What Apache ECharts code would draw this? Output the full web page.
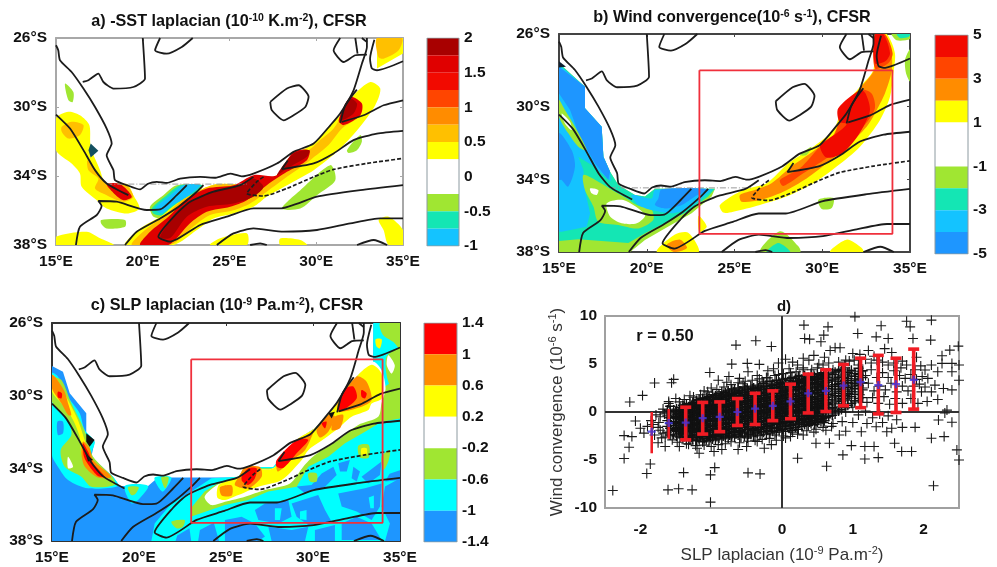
<!DOCTYPE html>
<html><head><meta charset="utf-8">
<style>html,body{margin:0;padding:0;background:#fff}#c{width:997px;height:567px;filter:blur(0.45px)}</style>
<script src="https://cdn.jsdelivr.net/npm/echarts@6/dist/echarts.min.js"></script>
</head><body><div id="c"></div>
<script>
// ---------- shared map lines (lon, lat) ----------
const coast=[[15,-26.42],[15.13,-26.71],[15.23,-27.29],[15.9,-27.97],[16.58,-28.93],[17.25,-30],[17.92,-31.25],[18.21,-32.12],[17.92,-32.8],[18.31,-33.66],[18.4,-34.24],[19.08,-34.53],[19.85,-34.78],[20.3,-34.45],[20.81,-34.34],[21.4,-34.4],[22.15,-34.15],[23.31,-34.05],[24.2,-34.1],[25.04,-33.86],[25.7,-34.02],[26.38,-33.86],[27.73,-33.28],[28.69,-32.6],[29.85,-32.12],[30.81,-31.06],[31.38,-30.38],[32.15,-29.03],[32.63,-27.49],[32.92,-26.52],[32.92,-26]];
const border1=[[20,-26],[20.13,-28.35],[19.46,-28.84],[18.31,-28.93],[17.73,-28.55],[17.44,-28.06],[16.87,-28.45],[16.54,-28.55]];
const border2=[[21,-26],[20.71,-26.71],[21.38,-26.91],[22.25,-26.52],[22.88,-26]];
const lesotho=[[27.35,-29.7],[28.31,-28.93],[28.98,-28.74],[29.56,-29.41],[29.37,-30],[28.69,-30.48],[28.12,-30.77],[27.44,-30.19],[27.35,-29.7]];
const swazi=[[31.38,-26],[31,-26.71],[31.58,-27.39],[32.25,-27],[32.92,-26.96]];
const swazi2=[[32.25,-26],[32.38,-26.91]];
const swazi3=[[32.63,-26],[32.92,-26.23]];
const contourW=[[15,-30.44],[15.81,-31.25],[16.58,-32.5],[17.25,-33.66],[17.92,-34.43],[19.17,-35.11]];
const contour2=[[16.15,-38],[16.38,-36.94],[17.35,-36.26],[17.63,-35.74],[17.44,-35.45],[18.5,-35.49],[20.23,-35.97],[21,-35.94],[21.96,-35.11],[22.54,-34.53]];
const contour3=[[18.98,-38],[19.65,-37.23],[21,-36.46],[22.06,-35.78],[23.12,-34.91],[23.5,-34.53]];
const contour4=[[26.38,-34.05],[25.62,-34.53],[24.08,-34.91],[22.73,-35.49],[21.96,-36.17],[20.9,-37.52],[21.58,-37.81],[23.31,-36.84],[24.85,-36.36],[26.38,-35.88],[27.92,-35.88],[30.04,-35.2],[32.54,-34.82],[35,-34.53]];
const dashedContour=[[26.96,-34.05],[26.58,-34.33],[26,-35.01],[26.96,-35.16],[28.31,-34.72],[29.85,-34.05],[31,-33.62],[32.92,-33.27],[35,-32.98]];
const contour6=[[28.36,-33.1],[28.02,-33.6],[29.85,-33.27],[31,-32.69],[32.15,-31.92],[33.5,-31.54],[35,-31.38]];
const contour7=[[31.48,-30.86],[32.73,-30.48],[33.88,-29.9],[35,-29.61]];
const finger=[[31.39,-30.92],[31.67,-29.91],[32.34,-28.99]];
const contour8=[[33.35,-26.1],[33.1,-27.2],[33.2,-27.75],[33.5,-27.87],[35,-27.35]];
const contour9=[[24.27,-38],[25.23,-37.33],[26.38,-37.04],[28.12,-37.23],[30.04,-37.13],[31.96,-36.75],[33.69,-36.46],[35,-36.46]];
const contour10=[[26.19,-38],[26.77,-37.9],[27.15,-38]];
const contour11=[[32.35,-38],[33.31,-37.71],[34.08,-38]];
const redBox=[[23,-28],[34,-28],[34,-37],[23,-37],[23,-28]];
const maskEdge=[[17.9,-34.47],[26,-34.47]];

// ---------- colour levels ----------
const RD='#a80000',R1='#e00000',R2='#f20a00',R3='#ff4500',O='#ff8c00',A='#ffc000',Y='#ffff00',W='#ffffff',G='#a0e632',T='#14e6b4',LB='#14c3ff',B='#1e96ff',C='#00ffff';
const barA=[[1.75,2,RD],[1.5,1.75,R1],[1.25,1.5,R2],[1,1.25,R3],[0.75,1,O],[0.5,0.75,A],[0.25,0.5,Y],[-0.25,0.25,W],[-0.5,-0.25,G],[-0.75,-0.5,T],[-1,-0.75,LB]];
const barB=[[4,5,R2],[3,4,R3],[2,3,O],[1,2,Y],[-1,1,W],[-2,-1,G],[-3,-2,T],[-4,-3,LB],[-5,-4,B]];
const barC=[[1,1.4,'#ff0000'],[0.6,1,O],[0.2,0.6,Y],[-0.2,0.2,W],[-0.6,-0.2,G],[-1,-0.6,C],[-1.4,-1,B]];
const ticksA=[-1,-0.5,0,0.5,1,1.5,2], ticksB=[-5,-3,-1,1,3,5], ticksC=[-1.4,-1,-0.6,-0.2,0.2,0.6,1,1.4];

// ---------- panel a polygons ----------
const aWestY=[[15,-30.67],[15.71,-30.28],[16.38,-30.48],[16.92,-31.05],[17,-32.31],[17.54,-33.66],[17.88,-34.43],[19.08,-34.47],[19.46,-35.11],[19.81,-35.88],[19.08,-36.17],[17.92,-35.88],[17.35,-35.4],[16.48,-34.62],[16.38,-33.85],[15.9,-33.27],[15,-32.5]];
const aWestA1=[[15.33,-31.15],[15.9,-30.86],[16.58,-31.05],[16.38,-31.63],[15.71,-31.83],[15.33,-31.44]];
const aWestA2=[[16.81,-33.08],[17.25,-33.66],[17.92,-34.47],[18.98,-34.47],[19.46,-35.2],[18.88,-35.49],[17.92,-35.11],[17.25,-34.72],[17.44,-34.14],[16.87,-33.66]];
const aWestR=[[17.92,-34.47],[18.69,-34.47],[19.37,-35.2],[18.88,-35.4],[18.31,-34.98]];
const aDiamond=[[17,-32.12],[17.44,-32.54],[17,-32.93],[16.87,-32.5]];
const aG1=[[15.52,-28.64],[16,-29.13],[15.96,-29.71],[15.71,-29.6]];
const aG2=[[17.6,-36.55],[18.98,-36.55],[18.98,-36.94],[17.92,-37.04],[17.6,-36.75]];
const aY2=[[15,-37.52],[16.77,-37.23],[17.54,-37.61],[18.31,-38],[15,-38]];
const aColdG=[[20.42,-35.78],[21.19,-35.11],[21.96,-34.53],[23.46,-34.53],[23.12,-35.01],[21.96,-35.88],[21.19,-36.4],[20.62,-36.36]];
const aColdT=[[20.52,-35.88],[21.38,-35.11],[22.15,-34.53],[23.42,-34.53],[22.83,-35.11],[21.77,-35.78],[21.19,-36.26],[20.65,-36.21]];
const aColdB=[[20.71,-35.88],[21.48,-35.2],[22.35,-34.53],[23.31,-34.53],[22.54,-35.2],[21.58,-35.78],[21.1,-36.17]];
const aBandY=[[18.98,-38],[19.85,-37.04],[21,-36.36],[21.96,-35.59],[23.31,-34.82],[24.27,-34.47],[26,-34.47],[27.73,-33.95],[28.5,-32.89],[29.85,-32.12],[30.81,-31.05],[31.48,-30.38],[32.15,-29.32],[33.12,-28.55],[33.69,-28.93],[33.4,-29.9],[32.44,-31.25],[31.19,-32.6],[29.85,-33.66],[28.5,-34.43],[27.15,-35.2],[26.38,-35.78],[25.23,-36.17],[24.08,-36.46],[23.12,-37.13],[21.77,-38]];
const aBandA=[[19.37,-38],[20.13,-37.13],[21.19,-36.36],[22.15,-35.49],[23.5,-34.72],[24.46,-34.47],[26,-34.47],[27.73,-33.95],[28.5,-32.89],[29.56,-32.5],[30.23,-31.92],[31,-31.25],[31.48,-30.48],[32.06,-29.51],[32.63,-29.8],[32.44,-30.57],[31.48,-31.25],[30.71,-32.21],[29.65,-33.08],[28.31,-34.05],[27.15,-34.91],[26.19,-35.59],[25.23,-35.98],[23.88,-36.26],[22.9,-36.94],[21.6,-38]];
const aBandR=[[19.85,-38],[20.42,-37.23],[21.48,-36.36],[22.44,-35.4],[23.69,-34.72],[25.23,-34.53],[26.38,-33.95],[27.73,-33.95],[28.69,-32.6],[29.6,-32.5],[29.46,-33.08],[28.31,-33.76],[27.15,-34.53],[26,-35.4],[25.04,-35.78],[23.69,-36.07],[22.71,-36.75],[21.48,-38]];
const aBandD1=[[21,-37.52],[21.96,-36.17],[22.73,-35.49],[23.88,-34.91],[25.42,-34.59],[26.38,-34.14],[26.96,-34.63],[26.38,-35.2],[25.23,-35.59],[23.69,-35.78],[22.54,-36.36],[21.58,-37.6]];
const aBandD2=[[27.73,-33.95],[28.69,-32.7],[29.6,-32.5],[29.46,-32.89],[28.31,-33.56]];
const aNER=[[31.29,-30.77],[31.96,-29.42],[32.63,-29.8],[32.54,-30.48],[31.58,-31.05]];
const aND=[[31.38,-30.57],[31.96,-29.51],[32.35,-29.8],[32.15,-30.38],[31.48,-30.77]];
const aG3=[[31.77,-32.5],[32.54,-31.63],[32.63,-32],[32.35,-32.5],[31.87,-32.66]];
const aG4=[[28.02,-35.88],[29.08,-34.82],[30.81,-33.37],[31.1,-34.24],[30.04,-35.11],[29.08,-35.88]];
const aTopY=[[33.5,-26],[35,-26],[35,-26.9],[33.5,-27.77]];
const aTopA=[[33.5,-26],[34.94,-26],[34.75,-26.71],[33.88,-27.2],[33.58,-27.1]];
const aY3=[[23.88,-38],[24.46,-37.61],[26,-37.32],[26,-38]];
const aY4=[[27.92,-37.62],[29.08,-37.71],[29.46,-38],[27.92,-38]];
const aY5=[[33.6,-36.55],[34.17,-36.36],[35,-37.13],[35,-38],[34.17,-38],[33.88,-37.13]];
const layersA=[[Y,aWestY],[A,aWestA1],[A,aWestA2],[R1,aWestR],[G,aG1],[G,aG2],[Y,aY2],[G,aColdG],[T,aColdT],[LB,aColdB],[Y,aBandY],[A,aBandA],[R1,aBandR],[RD,aBandD1],[RD,aBandD2],[R1,aNER],[RD,aND],[G,aG3],[G,aG4],[Y,aTopY,1],[A,aTopA],[Y,aY3],[Y,aY4],[Y,aY5],['#14505f',aDiamond,1]];

// ---------- panel b polygons ----------
const bG1=[[15,-27.61],[16.48,-28.9],[16.48,-30.09],[17.43,-31.1],[17.53,-32.75],[17.91,-33.58],[18.38,-34.31],[19.33,-34.86],[19.9,-34.95],[20.47,-34.52],[23.89,-34.52],[23.7,-34.95],[22.56,-35.87],[21.23,-36.6],[19.9,-37.34],[19.05,-38],[15,-38]];
const bT1=[[15,-27.61],[16.48,-28.9],[16.48,-30.09],[17.43,-31.1],[17.53,-32.75],[17.91,-33.58],[18.38,-34.31],[19.33,-34.86],[19.9,-34.95],[20.47,-34.52],[23.89,-34.52],[23.5,-34.95],[22.37,-35.75],[21.04,-36.4],[19.9,-36.97],[18.95,-37.5],[16.1,-37.3],[15,-37.4]];
const bLB1=[[15,-27.7],[16.48,-28.9],[16.48,-30.09],[17.43,-31.1],[17.53,-32.75],[17.91,-33.58],[17.95,-34.1],[16.86,-33.21],[16.1,-32.75],[16.39,-33.49],[16.48,-34.59],[16.77,-35.87],[16.58,-36.61],[15.15,-36.88],[15,-36.88]];
const bB1=[[15,-27.8],[16.48,-28.9],[16.48,-30.09],[17.43,-31.1],[17.53,-32.75],[17.91,-33.58],[17.81,-34.04],[17.05,-33.12],[16.2,-31.74],[15.91,-30.92],[15.63,-30.18],[15,-29.27]];
const bB2=[[15,-31.47],[15.72,-32.39],[15.91,-33.3],[15.53,-34.4],[15.15,-34.03],[15,-34.03]];
const bG2=[[16.39,-33.76],[17.24,-34.13],[18.19,-34.68],[18.86,-35.05],[19.43,-35.41],[20.28,-35.69],[20.37,-36.24],[19.52,-36.7],[18.38,-36.51],[17.24,-36.33],[16.96,-35.5],[16.48,-34.59]];
const bW1=[[16.77,-34.5],[17.24,-34.59],[17.15,-34.86],[16.86,-34.77]];
const bW2=[[17.72,-35.32],[18.67,-35.14],[19.9,-35.96],[19.43,-36.42],[18.57,-36.42],[17.91,-36.05]];
const bG3=[[15,-29.63],[15.34,-30.18],[15.91,-31.1],[16.58,-32.39],[16.1,-32.2],[15.53,-31.47],[15,-30.55]];
const bW3=[[15.15,-30.37],[15.63,-30.83],[15.72,-31.29],[15.34,-30.92]];
const bLB2=[[19.14,-34.86],[20.28,-35.05],[20.47,-34.59],[23.7,-34.55],[23.13,-35.05],[22.37,-35.6],[21.42,-35.87],[20.28,-35.69],[19.52,-35.41]];
const bB3=[[20.66,-35.05],[20.85,-34.55],[23.51,-34.55],[22.75,-34.95],[22,-35.41],[21.04,-35.6],[20.47,-35.41]];
const bBand1=[[24.17,-35.41],[25.5,-34.59],[26.83,-34.22],[28.06,-33.12],[29.49,-32.2],[30.63,-31.28],[31.2,-30],[32.15,-28.9],[32.91,-27.98],[33,-26],[33.67,-26],[34.14,-27.06],[34.05,-28.17],[33.86,-29.45],[33.29,-30.73],[32.15,-32.2],[30.82,-33.3],[29.49,-34.22],[27.97,-34.95],[26.45,-35.41],[24.93,-35.78],[24.36,-35.83]];
const bBand2=[[25.31,-34.86],[26.16,-34.59],[27.11,-34.22],[28.25,-33.3],[29.58,-32.39],[30.63,-31.56],[31.2,-30.18],[32.15,-28.99],[33,-27.89],[33,-26],[33.57,-26],[33.95,-27.06],[33.95,-28.07],[33.57,-29.27],[33,-30.37],[32.53,-31.1],[31.39,-32.2],[30.25,-33.12],[29.11,-33.95],[27.78,-34.68],[26.45,-35.14],[25.4,-35.23]];
const bBand3=[[27.59,-34.04],[28.73,-33.39],[29.87,-32.2],[30.63,-31.65],[31.2,-30.18],[32.15,-29.08],[32.81,-29.27],[33,-30.09],[32.43,-31],[31.39,-32],[30.25,-32.84],[28.92,-33.67],[27.78,-34.37]];
const bTop3=[[33,-26],[33.57,-26],[34.01,-27.06],[33.76,-27.61],[33,-27.89]];
const bTop4=[[33,-26],[33.48,-26],[33.86,-27.06],[33.57,-27.52],[33,-27.61]];
const bBand4=[[30.91,-30.09],[32.15,-29.08],[32.47,-29.27],[32.72,-30.18],[32.34,-31.1],[31.77,-31.95],[31.1,-32.6],[30.24,-32.8],[29.87,-32.2],[30.15,-31.9],[30.91,-31.4],[31.39,-30.95],[30.97,-30.83]];
const bSmallG1=[[28.73,-32.66],[29.39,-32.2],[29.11,-32.66]];
const bDotG=[[29.78,-35.12],[30.64,-35.03],[30.54,-35.58],[29.97,-35.63]];
const bRightG=[[34.72,-27.41],[35,-26.86],[35,-28.6],[34.77,-28.15]];
const bTopG=[[33.96,-26],[35,-26],[35,-26.28],[34.24,-26.35]];
const bTopT=[[34.25,-26],[35,-26],[34.9,-26.17],[34.43,-26.22]];
const bY1=[[22.95,-36],[23.42,-36.6],[23,-36.9]];
const bY2=[[20.58,-38],[21.58,-37.05],[22.38,-36.95],[22.95,-38]];
const bO1=[[21.15,-37.6],[21.9,-37.32],[22.29,-37.78],[21.53,-38]];
const bY3=[[30.45,-38],[31.39,-37.32],[32.25,-37.78],[32.34,-38]];
const bG4=[[26.46,-38],[27.6,-36.86],[28.64,-37.69],[28.74,-38]];
const bT2=[[26.84,-38],[27.5,-37.5],[28.17,-38]];
const bBlack=[[15,-27.5],[15.4,-27.8],[15,-27.85]];
const layersB=[[G,bG1,1],[T,bT1,1],[LB,bLB1,1],[B,bB1,1],[B,bB2],[G,bG3],[W,bW3],[G,bG2],[W,bW1],[W,bW2],[LB,bLB2],[B,bB3],[Y,bBand1],[O,bBand2],[R3,bBand3],[R3,bTop3],[R2,bTop4],[R2,bBand4],[G,bSmallG1],[G,bDotG],[G,bRightG],[G,bTopG],[T,bTopT],[Y,bY1],[Y,bY2],[O,bO1],[Y,bY3],[G,bG4],[T,bT2],['#102030',bBlack,1]];

// ---------- panel c polygons ----------
const cOcean=[[15,-28.37],[15.63,-28.68],[16.02,-29.87],[16.97,-30.97],[16.97,-32.17],[17.45,-32.53],[17.26,-33.36],[18.5,-34.46],[18.89,-34.97],[20.52,-34.97],[21.09,-34.5],[25.71,-34.5],[26.09,-33.93],[27.72,-33.93],[29.06,-32.44],[30.11,-31.8],[30.88,-31.06],[31.55,-30.24],[32.51,-28.95],[33.46,-28.13],[33.47,-26],[35,-26],[35,-38],[15,-38]];
const cWestC=[[15,-28.77],[15.34,-28.95],[15.92,-30.06],[16.59,-30.97],[16.88,-31.89],[17.45,-32.53],[17.26,-33.36],[18.5,-34.46],[18.79,-34.97],[17.07,-35.1],[15.92,-34.64],[15.34,-33.91],[15,-33.27]];
const cB1=[[15.31,-31.43],[15.63,-31.43],[15.63,-32.07],[15.34,-32.16]];
const cB2=[[16.3,-33],[16.49,-32.82],[16.53,-33.54],[16.4,-33.73]];
const cWestG=[[15,-29.05],[15.54,-29.14],[16.11,-30.42],[16.69,-31.52],[17.07,-32.44],[17.36,-33.36],[18.5,-34.5],[18.6,-34.92],[17.26,-35.01],[16.69,-34.46],[15.73,-33.91],[15.5,-32.99],[16.11,-32.17],[15.92,-31.34],[15,-30.33]];
const cWestY=[[15,-28.86],[15.31,-29.14],[15.92,-30.24],[16.49,-31.34],[16.88,-32.44],[17.26,-33.54],[18.41,-34.46],[17.84,-34.5],[16.97,-33.91],[16.69,-33.18],[16.59,-32.26],[16.21,-31.34],[15.73,-30.61],[15,-29.78]];
const cWestO1=[[15,-28.86],[15.25,-29.05],[15.73,-29.78],[15.92,-30.42],[16.11,-31.06],[15.92,-31.06],[15.54,-30.42],[15,-29.6]];
const cRedDot=[[15.34,-29.78],[15.57,-29.87],[15.54,-30.15],[15.34,-30.09]];
const cWestO2=[[16.78,-32.53],[17.16,-32.9],[17.36,-33.54],[18.41,-34.46],[17.64,-34.5],[16.88,-33.9],[16.69,-33.18]];
const cWestR=[[16.78,-32.62],[17.07,-33.08],[17.36,-33.72],[18.03,-34.46],[17.64,-34.42],[17.16,-33.9],[16.84,-33.36]];
const cW1=[[15.92,-33.36],[16.21,-33.91],[15.92,-34]];
const cBlk1=[[16.97,-32.07],[17.45,-32.44],[17.16,-32.81],[16.97,-32.53]];
const cBlk2=[[16.92,-33.17],[17.36,-33.54],[17.07,-33.63]];
const cC2=[[19.18,-34.97],[20.52,-34.97],[19.95,-35.74],[19.56,-35.92]];
const cG2=[[19.37,-35.04],[19.98,-35.04],[19.79,-35.41],[19.56,-35.47]];
const cC3=[[20.9,-34.5],[21.86,-34.5],[21.38,-35.28],[21.09,-35]];
const cG3=[[21.28,-34.5],[21.7,-34.5],[21.51,-35.1]];
const cEastC=[[20.71,-38],[20.9,-37.03],[21.86,-35.93],[23.01,-35.28],[24.16,-34.55],[25.71,-34.46],[26.09,-33.93],[27.72,-33.93],[29.06,-32.44],[30.11,-31.8],[30.88,-31.06],[31.55,-30.24],[32.51,-28.95],[33.46,-28.13],[33.47,-26],[35,-26],[35,-38]];
const cPatch=[
[[27.24,-35.93],[28.58,-35.74],[28.77,-36.66],[28,-37.03],[26.86,-36.84],[26.66,-36.3]],
[[28.77,-35.93],[30.3,-35.47],[30.69,-36.3],[31.07,-36.94],[29.73,-37.12],[29.06,-36.66]],
[[31.45,-35.38],[32.99,-35.1],[33.94,-34.83],[33.85,-36.1],[33.37,-36.84],[32.51,-36.38],[31.65,-36.1]],
[[34.14,-35],[35,-34.55],[35,-38],[34.14,-38],[34.42,-37.03],[33.94,-36.1]],
[[35,-34.1],[34.4,-34.3],[34.14,-34.73],[35,-34.64]],
[[31.45,-33.72],[32.12,-33.54],[31.94,-34.18],[31.55,-34.18]],
[[32.32,-33.91],[32.7,-34.18],[32.51,-34.73],[32.22,-34.55]],
[[29.06,-35],[29.92,-34.92],[30.5,-34.28],[31.17,-33.91],[31.36,-34.37],[30.69,-35.01],[29.54,-35.38]],
[[32.79,-34.46],[33.94,-33.63],[33.85,-34.37],[33.18,-34.83]],
[[24.94,-36.84],[25.9,-36.66],[26.66,-37.03],[27.24,-37.75],[26.86,-38],[24.94,-38]],
[[27.43,-37.21],[28.77,-37.39],[29.73,-37.21],[29.54,-38],[27.62,-38]],
[[30.11,-37.39],[31.26,-37.12],[31.26,-38],[30.11,-38]],
[[31.65,-37.03],[32.51,-36.66],[33.37,-37.03],[33.94,-37.94],[31.65,-37.94]],
[[23.5,-37.4],[24.3,-37],[24.6,-38],[23.4,-38]],
[[22.2,-37.7],[22.9,-37.3],[23,-38],[22.1,-38]]
];
const cCyanDots=[[[27.81,-36.2],[28.2,-36.2],[28.1,-36.84],[27.81,-36.84]],[[29.25,-36.38],[29.63,-36.3],[29.63,-36.84],[29.25,-36.8]],[[33.2,-35.6],[33.5,-35.5],[33.5,-36.2],[33.3,-36.2]]];
const cEastG=[[22.97,-36.66],[23.05,-36.11],[23.77,-35.28],[24.54,-34.83],[25.71,-34.46],[26.09,-34],[27.72,-34],[29.06,-32.44],[30.11,-31.8],[30.88,-31.06],[31.55,-30.24],[32.51,-28.95],[33.46,-28.13],[33.94,-28.59],[34.14,-29.5],[35,-28.95],[35,-31.25],[33.94,-31.43],[32.99,-31.98],[31.84,-32.62],[30.88,-33.36],[29.73,-33.91],[29.06,-35.01],[27.43,-35.28],[26.28,-35.74],[24.94,-36.02]];
const cTopG1=[[33.85,-26],[35,-26],[35,-27.41],[34.62,-27.05],[34.04,-26.68]];
const cTopG2=[[34.2,-27.9],[35,-27.4],[35,-29.2],[34.4,-29.4]];
const cTopW=[[34.33,-27.78],[34.7,-28.33],[34.52,-28.79],[34.24,-28.33]];
const cTopY=[[33.6,-26.9],[33.95,-26.9],[33.85,-27.4],[33.65,-27.3]];
const cEastW=[[23.77,-35.56],[24.54,-34.89],[25.71,-34.46],[26.09,-34],[27.72,-34],[29.06,-32.44],[30.11,-31.8],[30.88,-31.06],[31.55,-30.24],[32.51,-28.95],[33.46,-28.13],[33.94,-28.59],[34.17,-29.6],[33.94,-30.42],[33.75,-31.16],[32.6,-31.61],[31.45,-32.44],[30.11,-33.27],[29.44,-33.91],[28.68,-34.83],[27.24,-35.19],[26.09,-35.56],[24.94,-35.84],[24.16,-36.02]];
const cEastY=[[24.6,-34.9],[25.71,-34.46],[26.09,-34],[27.72,-34],[29.06,-32.44],[30.11,-31.8],[30.88,-31.06],[31.55,-30.24],[32.51,-28.95],[33.37,-28.3],[33.94,-28.8],[33.94,-30.15],[33.37,-30.43],[33.18,-30.79],[32.22,-31.16],[31.45,-31.8],[30.69,-32.35],[29.73,-33],[29.35,-33.54],[28.2,-34.64],[26.86,-35.01],[25.71,-35.47],[24.94,-35.74],[24.5,-35.6]];
const cO1=[[24.66,-35.03],[25.33,-34.94],[25.33,-35.49],[24.75,-35.49]];
const cO2=[[25.8,-34.37],[26.09,-33.93],[26.95,-33.93],[27.05,-34.46],[26.28,-35.1],[25.51,-34.92]];
const cO3=[[27.91,-33.91],[29.06,-32.44],[29.83,-32.17],[30.11,-31.8],[29.54,-33],[28.77,-33.54],[28,-34.18]];
const cO4=[[31.45,-30.33],[32.51,-28.95],[33.08,-29.23],[33.37,-30.24],[32.79,-30.61],[31.45,-30.88]];
const cO5=[[30.21,-31.89],[30.88,-31.06],[31.26,-31.16],[30.88,-31.98],[30.4,-32.3]];
const cO6=[[31.26,-31.16],[31.74,-31.06],[31.55,-31.8],[31.07,-31.89]];
const cR1=[[25.9,-34.46],[26.28,-34],[26.76,-34],[26.66,-34.55],[26.28,-34.92],[25.94,-34.73]];
const cR2=[[27.91,-33.54],[29.06,-32.44],[29.73,-32.44],[29.06,-33.17],[28.29,-33.98],[27.91,-33.91]];
const cR3=[[31.45,-30.61],[31.84,-29.6],[32.32,-29.5],[32.51,-30.15],[31.55,-30.88]];
const cR4=[[32.79,-29.69],[33.08,-29.87],[32.99,-30.15],[32.79,-30.06]];
const cR5=[[30.5,-31.52],[30.78,-31.43],[30.69,-31.8]];
const cBlk3=[[30.88,-30.97],[31.26,-30.88],[31.07,-31.25]];
const cG5=[[32.6,-32.75],[33.2,-32.7],[33.2,-33.4],[32.7,-33.4]];
const cY5=[[32.79,-32.9],[33.08,-32.9],[33.08,-33.27],[32.79,-33.27]];
const cG6=[[29.73,-34.28],[30.21,-34.28],[30.21,-34.73],[29.83,-34.73]];
const cG7=[[21.86,-36.94],[22.62,-36.85],[22.53,-37.21],[22.15,-37.3]];
const cG8=[[33.94,-33.36],[34.42,-32.99],[34.33,-33.63],[34.05,-34.09]];
const layersC=[[B,cOcean,1],[C,cWestC],[B,cB1],[B,cB2],[G,cWestG],[Y,cWestY],[O,cWestO1],['#ff0000',cRedDot],[O,cWestO2],['#ff0000',cWestR],[W,cW1],[C,cC2],[G,cG2],[C,cC3],[G,cG3],[C,cEastC,1]]
 .concat(cPatch.map(p=>[B,p,1])).concat(cCyanDots.map(p=>[C,p,1]))
 .concat([[G,cEastG,1],[G,cTopG1],[G,cTopG2],[W,cTopW],[Y,cTopY],[W,cEastW],[Y,cEastY],[O,cO1],[O,cO2],[O,cO3],[O,cO4],[O,cO5],[O,cO6],['#ff0000',cR1],['#ff0000',cR2],['#ff0000',cR3],['#ff0000',cR4],['#ff0000',cR5],['#111',cBlk1,1],['#111',cBlk2,1],['#111',cBlk3,1],[G,cG5],[Y,cY5],[G,cG6],[G,cG7],[G,cG8]]);

// ---------- panel d data ----------
const binX=[-1.84,-1.6,-1.36,-1.12,-0.88,-0.63,-0.38,-0.13,0.12,0.37,0.62,0.87,1.11,1.36,1.61,1.86];
const binMean=[-2.05,-1.15,-1.1,-0.65,-0.5,0,0.35,0.65,1.1,1.95,2.2,2.75,3.1,2.8,2.9,3.35];
const binTop=[0,0.3,0.5,1,1.05,1.4,1.95,2.2,2.9,3.95,4.4,4.95,5.6,5.9,5.6,6.55];
const binBottom=[-4.3,-2.8,-2.9,-2.3,-2.05,-1.4,-1.3,-0.9,-0.7,-0.1,0.05,0.65,0.45,-0.2,-0.05,0.3];
const outliers=[[-2.39,-8.18],[-2.15,1.04],[-1.97,1.73],[-1.8,3.02],[-1.56,3.05],[-1.53,3.4],[-2.23,-2.46],[-2.07,-0.94],[-2.23,-4.85],[-2.16,-3.67],[-2.12,-2.56],[-1.91,-6.41],[-1.86,-5.41],[-1.39,-6.31],[-1.61,-8.11],[-1.46,-8],[-1.27,-8.11],[-1.01,-9.39],[-1.01,-6.55],[-0.95,-5.79],[-0.48,-6.34],[-0.31,-6.45],[-0.65,6.97],[-0.37,7.42],[-0.15,6.83],[-0.71,4.99],[-0.49,5.06],[-1.02,4.12],[-0.32,4.96],[0.22,-4.82],[0.63,-5.65],[0.31,9.05],[0.65,8.87],[0.32,7.66],[0.39,7.59],[0.59,8.01],[0.55,7.31],[1.03,9.91],[1.07,8.18],[1.4,8.98],[1.76,9.46],[2.11,9.57],[1.81,8.87],[1.85,7.66],[2.1,7.49],[1.33,7.83],[1.5,7.66],[2.49,6.86],[2.37,6.45],[2.26,5.86],[2.14,-7.69],[2.5,-5],[2.47,-3.95],[1.36,-4.75],[1.17,-4.89],[0.86,-4.47],[0.98,-3.5],[1.17,-3.6],[1.3,-3.6],[1.59,-3.26],[1.69,-4.12],[1.83,-4.12],[1.88,-1.6],[2.11,-2.74],[2.29,-2.56],[2.21,-0.83],[2.4,-1.07],[1.12,-2.05],[1.33,-1.53],[1.48,-2.05],[0.81,-2.39],[0.67,-3.26],[0.48,-3.26],[-0.25,-3.78],[-0.35,-3.08],[-1.2,-3.78],[-0.96,-4.12],[-1.17,-4.3],[2.5,4.9],[2.4,5.06],[2.26,5.06],[2.11,4.9],[2.4,4.2],[2.2,4.2],[2.16,2.8],[2.02,4.37],[2.4,2.3],[2.33,0.2],[2.5,3.3],[2.28,2.45],[2.11,2.1],[1.97,2.1],[-1.75,-1.6],[-1.85,-0.9],[-1.95,-2.2],[-1.7,-2.7],[-1.65,-3.6],[-1.75,-3.2],[-2,-1.7],[-1.6,1.1],[-1.5,1.4],[-1.3,1.7],[-1.1,2.2],[-0.9,3.3],[-0.75,3.7],[-0.2,4.3],[-0.05,3.9],[-0.62,-3.9],[-0.15,-3.4],[-0.5,-3.6],[-0.85,-3.9],[-1.45,-3.6],[-1.35,-3.3]];
const edgeFringe=[[-1.6,0.9],[-1.45,1.05],[-1.38,1.3],[-1.25,1.55],[-1.15,1.8],[-1.05,2.1],[-1,2.5],[-0.92,2.35],[-0.82,2.6],[-0.72,2.85],[-0.62,3.05],[-0.52,3.2],[-0.42,3.3],[-0.32,3.45],[-0.2,3.55],[-0.1,3.8],[0.02,4],[0.12,4.1],[0.3,4.4],[-0.78,3.1],[-0.55,2.95],[-0.28,3.2],[-1.65,-2.6],[-1.55,-2.9],[-1.48,-3.15],[-1.32,-3.35],[-1.22,-3.5],[-1.1,-3.45],[-1,-3.6],[-0.9,-3.4],[-0.8,-3.3],[-0.72,-3.1],[-0.6,-3.2],[-0.48,-3.05],[-0.38,-2.95],[-0.28,-2.85],[-0.18,-2.75],[-0.08,-2.95],[0.02,-2.5],[0.12,-2.55],[0.22,-2.3],[0.35,-1.95],[0.48,-1.8],[0.58,-1.6],[0.7,-1.5],[-1.72,-0.5],[-1.68,0.3],[-1.74,-1.1],[-1.68,-2.2],[-1.72,-1.9],[-1.66,-0.2],[-1.8,-2.4],[-1.9,-1.5],[-1.78,-0.3],[-1.82,-1.3]];
const upperCloud=[[0.05,5.5],[0.15,5.2],[0.22,4.9],[0.3,5.6],[0.38,5.4],[0.45,5.9],[0.52,5],[0.6,5.7],[0.68,6.4],[0.75,6.7],[0.82,6.7],[0.9,5.4],[1,6.1],[1.1,6],[1.22,6.4],[1.3,5.8],[1.45,6.6],[1.55,6.2],[1.7,5.3],[1.9,5.7],[0.1,4.5],[0.2,4.2],[0.3,4.6],[0.42,4.4],[0.5,4.6],[0.58,4.9],[0.66,5.1],[0.72,4.4],[0.8,5.2],[0.88,4.9],[0.95,5.3],[1.02,5.4],[1.08,4.9],[1.18,5.5],[1.26,5.1],[1.34,5.4],[1.42,5.2],[1.5,4.9],[1.58,5.1],[1.68,4.6],[1.76,4.9],[1.88,4.4],[1.96,4.8],[0.25,3.8],[0.35,3.5],[0.45,3.9],[0.55,4],[0.65,3.6],[0.72,3.9],[0.8,4.2],[0.88,3.6],[0.95,4.2],[1.03,3.7],[1.1,4.2],[1.18,3.8],[1.26,4.4],[1.34,3.6],[1.42,4.1],[1.5,3.6],[1.58,4.3],[1.66,3.8],[1.74,3.5],[1.82,3.9],[1.9,3.4],[1.98,3.7],[2.06,3.5],[0.6,3],[0.7,2.7],[0.78,3.2],[0.85,2.5],[0.92,3],[1,2.4],[1.06,3.1],[1.14,2.5],[1.22,3],[1.3,2.2],[1.38,2.7],[1.46,2.3],[1.54,3],[1.62,2.1],[1.7,2.7],[1.78,2.2],[1.86,2.7],[1.94,2.9],[2.02,2.6],[0.75,1.9],[0.85,1.4],[0.95,1.8],[1.03,1.2],[1.1,1.8],[1.2,1],[1.28,1.5],[1.36,0.9],[1.44,1.6],[1.52,0.8],[1.6,1.4],[1.7,0.9],[1.82,1.4],[1.92,0.9],[2.05,1.1],[2.2,1.3],[2.3,-0.1],[0.65,0.9],[0.72,0.2],[0.8,0.6],[0.9,0],[1,0.5],[1.08,-0.3],[1.18,0.1],[1.28,-0.6],[1.38,-0.2],[1.5,-0.4],[1.62,-0.8],[1.7,-1.6],[1.55,-1.7],[1.42,-1.1],[1.2,-1.2],[1,-1.1],[0.85,-1],[0.72,-1.2],[0.6,-0.9],[0.9,-2],[0.62,-1.9],[0.45,-2.1],[0.3,-2.4],[0.15,-2.1],[0.05,-2.7],[-0.1,-2.4],[-0.05,5.1],[-0.12,4.5],[-0.22,3.6],[-0.35,3.8],[-0.48,4.2],[-0.6,3.5]];
const coreColumns=[
[-1.62,[-2.1,-1.5,-0.9,-0.4,0.2]],[-1.58,[-2.4,-1.7,-1.2,-0.6,0.1,0.6]],
[-1.53,[-2.3,-1.9,-1.4,-1,-0.6,-0.2,0.2]],[-1.49,[-2.5,-2,-1.6,-1.2,-0.7,-0.3,0.3]],
[-1.44,[-2.6,-2.2,-1.7,-1.1,-0.8,-0.4,0.1,0.5]],[-1.4,[-2.7,-2.3,-1.8,-1.3,-0.9,-0.5,0,0.4,0.7]],
[-1.35,[-2.8,-2.2,-1.9,-1.4,-1,-0.6,-0.1,0.3,0.8]],[-1.3,[-2.9,-2.4,-2,-1.5,-1.1,-0.5,-0.2,0.4,0.9]],
[-1.26,[-2.8,-2.5,-1.9,-1.4,-0.9,-0.4,0.1,0.6,1]],[-1.21,[-3,-2.4,-1.8,-1.3,-0.8,-0.3,0.2,0.7,1.2]],
[-1.17,[-2.9,-2.3,-1.9,-1.2,-0.7,-0.2,0.3,0.8,1.3]],[-1.12,[-3.1,-2.5,-1.7,-1.1,-0.6,-0.1,0.4,0.9,1.4]],
[-1.07,[-2.9,-2.2,-1.6,-1.2,-0.5,0,0.5,1,1.5]],[-1.03,[-3,-2.4,-1.8,-1,-0.4,0.1,0.6,1.1,1.6]],
[-0.98,[-2.8,-2.1,-1.5,-0.9,-0.5,0.2,0.7,1.2,1.8]],[-0.94,[-2.9,-2.3,-1.7,-1,-0.3,0.3,0.8,1.3,1.7]],
[-0.89,[-2.7,-2,-1.4,-0.8,-0.2,0.2,0.9,1.4,1.9]],[-0.85,[-2.8,-2.2,-1.6,-0.9,-0.4,0.4,1,1.5,2.1]],
[-0.8,[-2.6,-1.9,-1.3,-0.7,-0.1,0.5,1.1,1.6,2]],[-0.76,[-2.7,-2.1,-1.5,-0.8,-0.3,0.3,0.9,1.7,2.2]],
[-0.71,[-2.5,-1.8,-1.2,-0.6,0,0.6,1.2,1.8,2.4]],[-0.67,[-2.6,-2,-1.4,-0.7,-0.2,0.4,1,1.6,2.3]],
[-0.62,[-2.4,-1.7,-1.1,-0.5,0.1,0.7,1.3,1.9,2.5]],[-0.58,[-2.6,-1.9,-1.3,-0.6,-0.1,0.5,1.1,1.7,2.2]],
[-0.53,[-2.5,-1.6,-1,-0.4,0.2,0.8,1.4,2,2.6]],[-0.49,[-2.7,-1.8,-1.2,-0.5,0,0.6,1.2,1.8,2.4]],
[-0.44,[-2.3,-1.5,-0.9,-0.3,0.3,0.9,1.5,2.1,2.7]],[-0.4,[-2.5,-1.7,-1.1,-0.4,0.1,0.7,1.3,1.9,2.5]],
[-0.35,[-2.2,-1.4,-0.8,-0.2,0.4,1,1.6,2.2,2.8]],[-0.31,[-2.4,-1.6,-1,-0.3,0.2,0.8,1.4,2,2.6]],
[-0.26,[-2.1,-1.3,-0.7,-0.1,0.5,1.1,1.7,2.3,3]],[-0.22,[-2.3,-1.5,-0.9,-0.2,0.3,0.9,1.5,2.1,2.7]],
[-0.17,[-2.2,-1.4,-0.8,0,0.6,1.2,1.8,2.4,3.2]],[-0.13,[-2,-1.2,-0.6,0.1,0.4,1,1.6,2.2,2.9]],
[-0.08,[-2.1,-1.3,-0.7,-0.1,0.7,1.3,1.9,2.5,3.3]],[-0.04,[-1.9,-1.1,-0.5,0.2,0.5,1.1,1.7,2.6,3.1]],
[0.01,[-1.8,-1.2,-0.4,0.3,0.8,1.4,2,2.7,3.4]],[0.05,[-2,-1,-0.5,0.1,0.6,1.2,1.8,2.4,3.5]],
[0.1,[-1.7,-1.1,-0.3,0.4,0.9,1.5,2.1,2.8,3.3]],[0.14,[-1.9,-0.9,-0.2,0.2,0.7,1.3,1.9,2.6,3.6]],
[0.19,[-1.6,-1,-0.4,0.5,1,1.6,2.2,2.9,3.5]],[0.23,[-1.8,-0.8,-0.1,0.3,0.8,1.4,2.4,3,3.7]],
[0.28,[-1.5,-0.9,-0.2,0.6,1.1,1.7,2.3,3.1,3.4]],[0.32,[-1.3,-0.7,0,0.4,0.9,1.5,2.5,3.2,3.8]],
[0.37,[-1.4,-0.8,-0.3,0.7,1.2,1.8,2.4,3,3.6]],[0.41,[-1.2,-0.6,0.1,0.5,1,1.6,2.6,3.3,4]],
[0.46,[-1.3,-0.7,-0.1,0.8,1.3,1.9,2.5,3.1,3.7]],[0.5,[-1.1,-0.5,0.2,0.6,1.1,2,2.7,3.4,3.9]],
[0.55,[-1,-0.4,0.3,0.9,1.4,2.1,2.6,3.2,3.8]],[0.59,[-1.1,-0.2,0.4,0.7,1.2,1.8,2.8,3.5,4.1]]
];
const coreColumns2=[
[-1.5,[-1.8,-1.05,-0.45,0.05]],[-1.46,[-1.95,-1.35,-0.55,-0.15]],[-1.42,[-2.05,-1.55,-0.65,-0.25,0.25]],
[-1.38,[-2.55,-1.15,-0.75,0.15,0.55]],[-1.33,[-2.05,-1.65,-1.25,-0.35,0.05]],[-1.28,[-2.65,-1.75,-0.75,-0.35,0.15,0.65]],
[-1.24,[-2.15,-1.65,-1.15,-0.65,-0.15,0.35,0.85]],[-1.19,[-2.65,-2.05,-1.55,-1.05,-0.55,-0.05,0.45,0.95]],
[-1.15,[-2.55,-2.15,-1.45,-0.95,-0.45,0.05,0.55,1.05]],[-1.1,[-2.75,-2.05,-1.35,-0.85,-0.35,0.15,0.65,1.15]],
[-1.05,[-2.55,-1.95,-1.4,-0.8,-0.25,0.25,0.75,1.25]],[-1.01,[-2.65,-2.1,-1.5,-0.7,-0.15,0.35,0.85,1.35]],
[-0.96,[-2.45,-1.85,-1.25,-0.7,-0.05,0.45,0.95,1.5]],[-0.92,[-2.55,-2,-1.35,-0.6,0.05,0.55,1.05,1.55]],
[-0.87,[-2.35,-1.75,-1.15,-0.55,0.05,0.6,1.15,1.65]],[-0.83,[-2.5,-1.85,-1.25,-0.5,0.15,0.7,1.25,1.8]],
[-0.78,[-2.25,-1.65,-1.05,-0.45,0.2,0.8,1.35,1.85]],[-0.74,[-2.4,-1.75,-1.15,-0.5,0.1,0.65,1.45,1.95]],
[-0.69,[-2.15,-1.5,-0.9,-0.3,0.3,0.9,1.5,2.1]],[-0.65,[-2.3,-1.65,-1.05,-0.45,0.15,0.75,1.35,2]],
[-0.6,[-2.05,-1.4,-0.8,-0.2,0.4,1,1.6,2.2]],[-0.56,[-2.2,-1.55,-0.95,-0.35,0.25,0.85,1.45,2]],
[-0.51,[-2.1,-1.3,-0.7,-0.1,0.5,1.1,1.7,2.3]],[-0.47,[-2.3,-1.5,-0.85,-0.25,0.35,0.95,1.55,2.15]],
[-0.42,[-1.95,-1.2,-0.6,0,0.6,1.2,1.8,2.4]],[-0.38,[-2.1,-1.4,-0.75,-0.15,0.45,1.05,1.65,2.25]],
[-0.33,[-1.8,-1.1,-0.5,0.1,0.7,1.3,1.9,2.5]],[-0.29,[-2,-1.3,-0.65,-0.05,0.55,1.15,1.75,2.35]],
[-0.24,[-1.7,-1,-0.4,0.2,0.8,1.4,2,2.65]],[-0.2,[-1.9,-1.2,-0.55,0.05,0.65,1.25,1.85,2.45]],
[-0.15,[-1.7,-1.05,-0.3,0.3,0.9,1.5,2.1,2.75]],[-0.11,[-1.6,-0.9,-0.25,0.25,0.85,1.3,1.95,2.55]],
[-0.06,[-1.7,-1,-0.4,0.4,1,1.6,2.2,2.85]],[-0.02,[-1.5,-0.8,-0.15,0.35,0.85,1.45,2.05,2.95]],
[0.03,[-1.5,-0.75,-0.2,0.4,0.95,1.55,2.15,3]],[0.07,[-1.35,-0.7,-0.1,0.3,0.85,1.65,2.25,2.95]],
[0.12,[-1.4,-0.6,0,0.65,1.2,1.8,2.35,3.05]],[0.16,[-1.25,-0.5,0.05,0.55,1.05,1.65,2.3,3.1]],
[0.21,[-1.3,-0.65,0.15,0.75,1.3,1.9,2.55,3.2]],[0.25,[-1.15,-0.45,0.1,0.6,1.15,1.75,2.65,3.3]],
[0.3,[-1.1,-0.5,0.2,0.85,1.4,2.05,2.7,3.3]],[0.34,[-1,-0.35,0.25,0.7,1.25,1.85,2.75,3.45]],
[0.39,[-1.05,-0.45,0.35,0.95,1.5,2.15,2.85,3.4]],[0.43,[-0.9,-0.3,0.3,0.75,1.35,1.95,2.95,3.55]],
[0.48,[-0.95,-0.35,0.45,1.05,1.6,2.25,2.85,3.45]],[0.52,[-0.8,-0.15,0.4,0.85,1.45,2.35,3,3.65]],
[0.57,[-0.7,0,0.55,1.15,1.7,2.35,2.95,3.55]],[0.62,[-0.6,0.1,0.5,1,1.55,2.15,3.1,3.75]],
[0.66,[-0.45,0.3,0.75,1.3,1.85,2.45,3.25,3.95]],[0.71,[-0.35,0.45,0.95,1.55,2.1,2.65,3.35,4.05]],
[0.75,[-0.2,0.4,1.15,1.7,2.3,2.85,3.45,4.15]],[0.8,[0.1,0.85,1.35,1.95,2.4,2.95,3.6,4.3]],
[0.84,[0.25,1.1,1.6,2.15,2.65,3.15,3.75,4.45]],[0.89,[0.45,1.25,1.75,2.3,2.8,3.3,3.95,4.6]],
[0.93,[0.7,1.45,1.95,2.55,3.05,3.5,4.1]],[0.98,[0.9,1.6,2.15,2.7,3.25,3.75,4.35]],
[1.03,[1.05,1.85,2.45,2.95,3.45,4]],[1.08,[1.4,2.1,2.75,3.35,3.9,4.55]],[1.14,[1.5,2.3,3.05,3.6,4.3]]
];

// ---------- text ----------
const FONT='"Liberation Sans",Arial,sans-serif';
const sup={t:{fontSize:16.2,fontWeight:'bold',fontFamily:FONT,color:'#111',lineHeight:18},s:{fontSize:10.5,fontWeight:'bold',fontFamily:FONT,color:'#111',lineHeight:11,verticalAlign:'top'}};
const supN={t:{fontSize:17,fontFamily:FONT,color:'#333',lineHeight:20},s:{fontSize:11,fontFamily:FONT,color:'#333',lineHeight:11,verticalAlign:'top'}};
const titleA='{t|a) -SST laplacian (10}{s|-10}{t| K.m}{s|-2}{t|), CFSR}';
const titleB='{t|b) Wind convergence(10}{s|-6}{t| s}{s|-1}{t|), CFSR}';
const titleC='{t|c) SLP laplacian (10}{s|-9}{t| Pa.m}{s|-2}{t|), CFSR}';
const xNameD='{t|SLP laplacian (10}{s|-9}{t| Pa.m}{s|-2}{t|)}';
const yNameD='{t|Wind convergence (10}{s|-6}{t| s}{s|-1}{t|)}';

// ---------- option assembly ----------
const grids=[],xAxes=[],yAxes=[],series=[];
const lbl={fontFamily:FONT,fontWeight:'bold',fontSize:15.5,color:'#111'};
function addAxes(g,xCfg,yCfg){
  const xi=xAxes.length, yi=yAxes.length;
  xAxes.push(Object.assign({gridIndex:g,type:'value',position:'bottom'},xCfg));
  yAxes.push(Object.assign({gridIndex:g,type:'value',position:'left'},yCfg));
  return [xi,yi];
}
const PLUS='path://M4.45 0H5.55V4.45H10V5.55H5.55V10H4.45V5.55H0V4.45H4.45Z';
const PLUSC='path://M4.3 0H5.7V4.3H10V5.7H5.7V10H4.3V5.7H0V4.3H4.3Z';
const PLUSB='path://M3.6 0H6.4V3.6H10V6.4H6.4V10H3.6V6.4H0V3.6H3.6Z';
function mapPanel(box,layers,frame,showMask,showBox){
  const g=grids.length; grids.push(Object.assign({show:false},box));
  const al={show:true,onZero:false,lineStyle:{color:frame,width:2}};
  const tk={show:true,inside:true,length:3,lineStyle:{color:frame,width:1}};
  const [xi,yi]=addAxes(g,
   {min:15,max:35,interval:5,axisLine:al,axisTick:tk,splitLine:{show:false},axisLabel:Object.assign({margin:9,formatter:v=>v+'°E'},lbl)},
   {min:-38,max:-26,interval:4,axisLine:al,axisTick:tk,splitLine:{show:false},axisLabel:Object.assign({margin:9,formatter:v=>(-v)+'°S'},lbl)});
  addAxes(g,{min:15,max:35,interval:5,position:'top',axisLine:al,axisTick:tk,axisLabel:{show:false},splitLine:{show:false}},
            {min:-38,max:-26,interval:4,position:'right',axisLine:al,axisTick:tk,axisLabel:{show:false},splitLine:{show:false}});
  series.push({type:'custom',xAxisIndex:xi,yAxisIndex:yi,clip:true,z:1,silent:true,data:layers.map((l,i)=>[i]),
    renderItem:(p,api)=>{const l=layers[api.value(0)];
      return {type:'polygon',shape:{points:l[1].map(c=>api.coord(c)),smooth:l[2]?0:0.28},style:{fill:l[0]}};}});
  const solid=[coast,border1,border2,lesotho,swazi,swazi2,swazi3,contourW,contour2,contour3,contour4,contour6,contour7,finger,contour8,contour9,contour10,contour11];
  const ln=(d,st,z,sm)=>series.push({type:'line',xAxisIndex:xi,yAxisIndex:yi,data:d,showSymbol:false,silent:true,z:z||3,smooth:sm||false,lineStyle:st});
  if(showMask) ln(maskEdge,{color:'#9a9a9a',width:1,type:[6,2,1,2]},2);
  solid.forEach(d=>ln(d,{color:'#1c1c1c',width:1.8},3,0.2));
  ln(dashedContour,{color:'#1c1c1c',width:1.7,type:[4,2]},3,0.2);
  if(showBox) ln(redBox,{color:'#f0303c',width:1.8},4);
}
function colorBar(box,bands,ticks,dec){
  const g=grids.length; grids.push(Object.assign({show:false},box));
  const lo=Math.min(...ticks),hi=Math.max(...ticks);
  const [xi,yi]=addAxes(g,{min:0,max:1,show:false},
   {min:lo,max:hi,position:'right',axisLine:{show:false},axisTick:{show:false},splitLine:{show:false},
    axisLabel:Object.assign({margin:5,customValues:ticks,showMinLabel:true,showMaxLabel:true,hideOverlap:false,formatter:v=>String(+v.toFixed(dec))},lbl)});
  series.push({type:'custom',xAxisIndex:xi,yAxisIndex:yi,clip:false,silent:true,data:bands.map(b=>[0,1,b[0],b[1]]),
    renderItem:(p,api)=>{const a=api.coord([0,api.value(3)]),b=api.coord([1,api.value(2)]);
      return {type:'rect',shape:{x:a[0],y:a[1],width:b[0]-a[0],height:b[1]-a[1]},style:{fill:bands[p.dataIndex][2]}};}});
  series.push({type:'line',xAxisIndex:xi,yAxisIndex:yi,showSymbol:false,silent:true,z:3,data:[[0,lo],[1,lo],[1,hi],[0,hi],[0,lo]],lineStyle:{color:'#8c9aa0',width:1}});
}
mapPanel({left:56,top:38,width:347,height:207},layersA,'#a8a8a8',true,false);
colorBar({left:427,top:38,width:32,height:208},barA,ticksA,1);
mapPanel({left:559,top:34,width:351,height:218},layersB,'#444',true,true);
colorBar({left:935,top:35,width:33,height:219},barB,ticksB,0);
mapPanel({left:52,top:323,width:348,height:218},layersC,'#333',false,true);
colorBar({left:424,top:323,width:33,height:219},barC,ticksC,1);

// panel d
(function(){
  const g=grids.length; grids.push({show:true,left:605,top:316,width:354,height:192,borderColor:'#a0a0a0',borderWidth:2,backgroundColor:'transparent'});
  const [xi,yi]=addAxes(g,
   {min:-2.5,max:2.5,interval:0.5,axisLine:{onZero:false,lineStyle:{color:'#a0a0a0',width:2}},axisTick:{show:false},splitLine:{show:false},
    axisLabel:Object.assign({margin:14,customValues:[-2,-1,0,1,2]},lbl),
    name:xNameD,nameLocation:'middle',nameGap:37,nameTextStyle:{rich:supN}},
   {min:-10,max:10,interval:5,axisLine:{onZero:false,lineStyle:{color:'#a0a0a0',width:2}},axisTick:{show:false},splitLine:{show:false},
    axisLabel:Object.assign({margin:8},lbl),
    name:yNameD,nameLocation:'middle',nameGap:38,nameRotate:90,nameTextStyle:{rich:supN}});
  const pts=outliers.concat(upperCloud,edgeFringe), core=[];
  coreColumns.concat(coreColumns2).forEach(c=>c[1].forEach(y=>core.push([c[0],y])));
  series.push({type:'line',xAxisIndex:xi,yAxisIndex:yi,data:[[-2.5,0],[2.5,0]],showSymbol:false,silent:true,z:1,lineStyle:{color:'#333',width:2}});
  series.push({type:'line',xAxisIndex:xi,yAxisIndex:yi,data:[[0,-10],[0,10]],showSymbol:false,silent:true,z:1,lineStyle:{color:'#333',width:2}});
  series.push({type:'scatter',xAxisIndex:xi,yAxisIndex:yi,data:pts,symbol:PLUS,symbolSize:10,silent:true,z:2,itemStyle:{color:'#1a1a1a',opacity:1}});
  series.push({type:'scatter',xAxisIndex:xi,yAxisIndex:yi,data:core,symbol:PLUSC,symbolSize:10,silent:true,z:2,itemStyle:{color:'#111',opacity:1}});
  series.push({type:'custom',xAxisIndex:xi,yAxisIndex:yi,clip:false,silent:true,z:3,data:binX.map((x,i)=>[x,binBottom[i],binTop[i]]),
    renderItem:(p,api)=>{
      const t=api.coord([api.value(0),api.value(2)]),b=api.coord([api.value(0),api.value(1)]);
      const w=p.dataIndex<2?0:5.5, st={stroke:'#f01c24',lineWidth:p.dataIndex<2?2.6:3.6,fill:null};
      return {type:'group',children:[
        {type:'line',shape:{x1:t[0],y1:t[1],x2:b[0],y2:b[1]},style:st},
        {type:'line',shape:{x1:t[0]-w,y1:t[1],x2:t[0]+w,y2:t[1]},style:st},
        {type:'line',shape:{x1:b[0]-w,y1:b[1],x2:b[0]+w,y2:b[1]},style:st}]};}});
  series.push({type:'scatter',xAxisIndex:xi,yAxisIndex:yi,data:binX.map((x,i)=>[x,binMean[i]]),symbol:PLUSB,symbolSize:8,silent:true,z:4,itemStyle:{color:'#3c34e0'}});
})();

const chart=echarts.init(document.getElementById('c'),null,{renderer:'canvas'});
chart.setOption({animation:false,backgroundColor:'#fff',
 title:[
  {text:titleA,left:224,top:8,textAlign:'center',textStyle:{rich:sup}},
  {text:titleB,left:727,top:4,textAlign:'center',textStyle:{rich:sup}},
  {text:titleC,left:222,top:292,textAlign:'center',textStyle:{rich:sup}},
  {text:'d)',left:779,top:294,textAlign:'center',textStyle:{fontFamily:FONT,fontWeight:'bold',fontSize:15,color:'#111'}},
  {text:'r = 0.50',left:660,top:323,textAlign:'center',textStyle:{fontFamily:FONT,fontWeight:'bold',fontSize:16.5,color:'#111'}}
 ],
 grid:grids,xAxis:xAxes,yAxis:yAxes,series:series});
</script></body></html>
